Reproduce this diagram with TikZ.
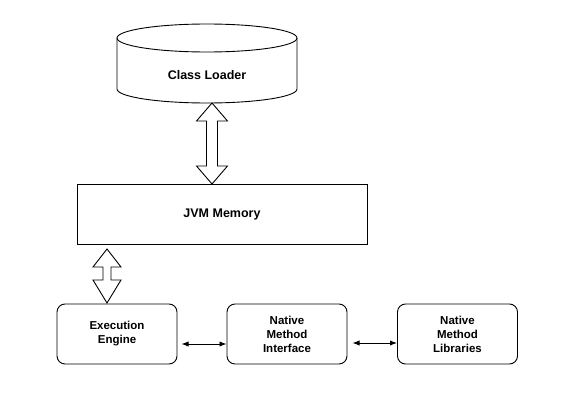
\documentclass[tikz,border=0pt]{standalone}
\usepackage{fontspec}
\setmainfont{Liberation Sans}
\usetikzlibrary{arrows.meta,calc}
\begin{document}
\begin{tikzpicture}[x=1pt,y=-1pt,
  box/.style={draw,line width=0.9pt,align=center,font=\bfseries\fontsize{11.5}{14}\selectfont,inner sep=0pt},
  rbox/.style={box,rounded corners=8pt,minimum width=120pt,minimum height=60pt},
  blockarrow/.style={draw,line width=0.9pt,fill=white,line join=miter},
  small/.style={Latex-Latex,line width=0.9pt}]
\useasboundingbox (0,0) rectangle (562,412);
% Class Loader cylinder
\draw[line width=0.9pt,fill=white] (117,38) -- (117,89) arc[start angle=180,end angle=0,x radius=90,y radius=14] -- (297,38);
\draw[line width=0.9pt] (207,38) ellipse[x radius=90,y radius=14];
\node[font=\bfseries\fontsize{12.5}{15}\selectfont] (cl) at (207,75) {Class Loader};
% JVM Memory
\node[box,minimum width=290pt,minimum height=60pt,font=\bfseries\fontsize{12.5}{15}\selectfont] (jvm) at (222,214) {JVM Memory};
% Bottom boxes
\node[rbox] (ee) at (117,334) {Execution\\Engine};
\node[rbox] (nmi) at (287,334) {Native\\Method\\Interface};
\node[rbox] (nml) at (457.5,334) {Native\\Method\\Libraries};
% block arrow Class Loader <-> JVM Memory
\draw[blockarrow] (212,103) -- (227.5,121) -- (217.5,121) -- (217.5,166) -- (227.5,166) -- (212,184)
  -- (196.5,166) -- (206.5,166) -- (206.5,121) -- (196.5,121) -- cycle;
% block arrow JVM Memory <-> Execution Engine
\draw[blockarrow] (107,249) -- (121,267) -- (111,267) -- (111,280) -- (121,280) -- (107,303)
  -- (93,280) -- (103,280) -- (103,267) -- (93,267) -- cycle;
% small arrows
\draw[small] ([xshift=4pt,yshift=-10pt]ee.east) -- ([yshift=-10pt]nmi.west);
\draw[small] ([xshift=5pt,yshift=-9pt]nmi.east) -- ([yshift=-9pt]nml.west);
\end{tikzpicture}
\end{document}
